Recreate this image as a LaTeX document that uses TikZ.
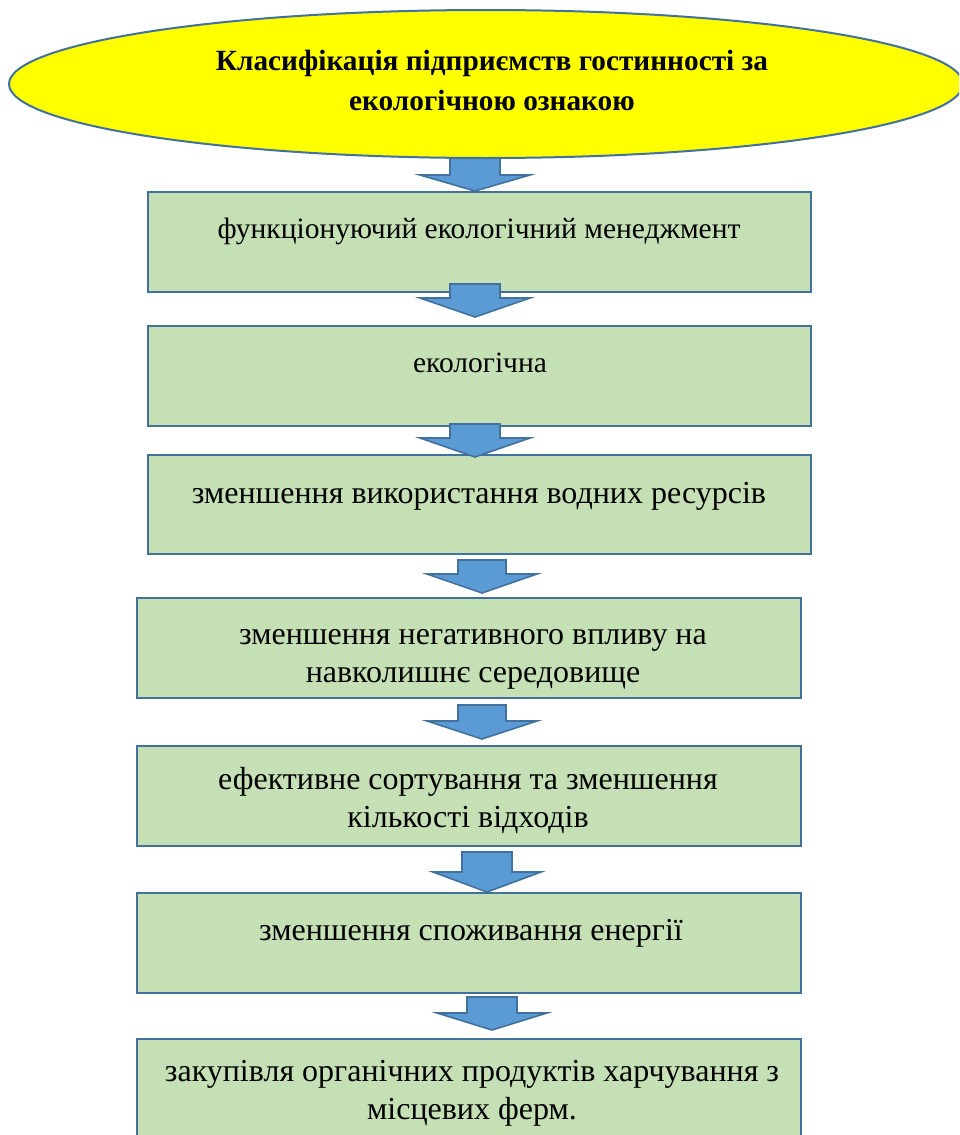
\documentclass[tikz,border=0pt]{standalone}
\usepackage{fontspec}
\setmainfont{Liberation Serif}
\usetikzlibrary{calc,shapes.geometric}
\definecolor{edgeblue}{HTML}{41719C}
\definecolor{boxgreen}{HTML}{C5E0B4}
\definecolor{arrowblue}{HTML}{5B9BD5}
\definecolor{headyellow}{HTML}{FFFF00}
\tikzset{
  stagebox/.style={draw=edgeblue, line width=2pt, fill=boxgreen},
  stagetext/.style={font=\fontsize{32}{38}\selectfont, align=center, inner sep=0pt, text=black},
  smallstagetext/.style={stagetext, font=\fontsize{29.5}{38}\selectfont},
  headtext/.style={font=\bfseries\fontsize{29.3}{40}\selectfont, align=center, inner sep=0pt},
  blockarrow/.style={draw=edgeblue, line width=1.6pt, fill=arrowblue, line join=miter},
}
% #1 centre x, #2 shaft top, #3 shoulder y, #4 tip y, #5 shaft half width, #6 head half width
\newcommand\downblock[6]{%
  \draw[blockarrow] (#1-#5,#2) -- (#1+#5,#2) -- (#1+#5,#3) -- (#1+#6,#3) -- (#1,#4)
    -- (#1-#6,#3) -- (#1-#5,#3) -- cycle;}
\begin{document}
\begin{tikzpicture}[x=1pt,y=-1pt]
\useasboundingbox (0,0) rectangle (959,1135);
\clip (0,0) rectangle (959,1135);
% arrow under the ellipse
\downblock{475}{140}{175}{191}{25}{55}
% ellipse
\node[draw=edgeblue, line width=2pt, fill=headyellow, ellipse, minimum width=954pt, minimum height=148pt, inner sep=0pt] (head) at (486,84) {};
\node[headtext] (headlabel) at (492,80) {Класифікація підприємств гостинності за\\екологічною ознакою};
% boxes
\draw[stagebox] (148,192) rectangle (811,292) node[pos=0.5] (b1) {};
\draw[stagebox] (148,326) rectangle (811,426) node[pos=0.5] (b2) {};
\draw[stagebox] (148,455) rectangle (811,554) node[pos=0.5] (b3) {};
\draw[stagebox] (137,598) rectangle (801,698) node[pos=0.5] (b4) {};
\draw[stagebox] (137,746) rectangle (801,846) node[pos=0.5] (b5) {};
\draw[stagebox] (137,893) rectangle (801,993) node[pos=0.5] (b6) {};
\draw[stagebox] (137,1039) rectangle (801,1160) node[pos=0.5] (b7) {};
% texts
\node[smallstagetext, anchor=base] (t1) at (479,238) {функціонуючий екологічний менеджмент};
\node[smallstagetext, anchor=base] (t2) at (480,372) {екологічна};
\node[stagetext, anchor=base] (t3) at (479,503) {зменшення використання водних ресурсів};
\node[stagetext, anchor=base] (t4) at (473,682) {зменшення негативного впливу на\\навколишнє середовище};
\node[stagetext, anchor=base] (t5) at (468,827) {ефективне сортування та зменшення\\кількості відходів};
\node[stagetext, anchor=base] (t6) at (471,940) {зменшення споживання енергії};
\node[stagetext, anchor=base] (t7) at (472,1119) {закупівля органічних продуктів харчування з\\місцевих ферм.};
% arrows
\downblock{475}{284}{298}{317}{25}{55}
\downblock{475}{424}{438}{457}{25}{55}
\downblock{482}{560}{574}{593}{24}{55}
\downblock{482}{705}{721}{739}{24}{55}
\downblock{487}{852}{872}{892}{25}{54}
\downblock{492}{997}{1013}{1030}{25}{55}
\end{tikzpicture}
\end{document}
